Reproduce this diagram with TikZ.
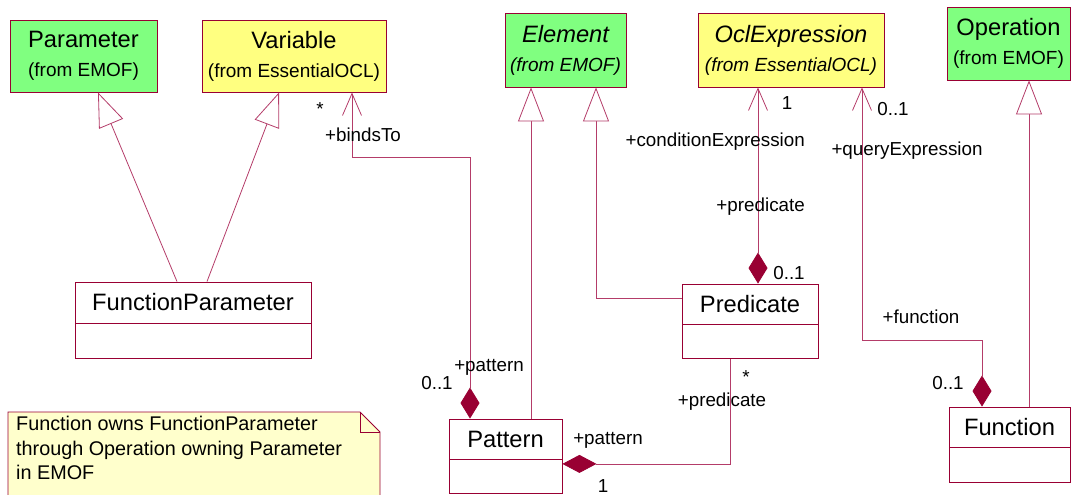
\documentclass[tikz,border=0pt]{standalone}
\usepackage{xcolor}
\usepackage{fontspec}
\setmainfont{Liberation Sans}
\usepackage{tikz}
\usetikzlibrary{positioning,arrows.meta}

\definecolor{umlred}{RGB}{153,0,51}
\definecolor{umllink}{RGB}{180,60,105}
\definecolor{emofgreen}{RGB}{128,255,128}
\definecolor{oclyellow}{RGB}{255,255,128}
\definecolor{notefill}{RGB}{255,255,204}

\newcommand{\titlefont}{\fontsize{23.7}{29}\selectfont}
\newcommand{\fromfont}{\fontsize{19}{29}\selectfont}
\newcommand{\lblfont}{\fontsize{18.8}{22}\selectfont}

\tikzset{
  umlbox/.style={draw=umlred, line width=0.9pt, align=center, inner sep=0pt, font=\titlefont},
  efbox/.style={umlbox, fill=emofgreen},
  oclbox/.style={umlbox, fill=oclyellow},
  namebox/.style={umlbox, fill=white},
  bodybox/.style={umlbox, fill=white},
  gen/.style={draw=umllink, line width=0.8pt, -{Triangle[open, length=34pt, width=26pt, fill=white]}},
  compnav/.style={draw=umllink, line width=0.8pt, {Diamond[length=31pt, width=19pt, umlred]}-{Straight Barb[length=22pt, width=19pt]}},
  comp/.style={draw=umllink, line width=0.8pt, {Diamond[length=34pt, width=18pt, umlred]}-},
  lbl/.style={font=\lblfont, inner sep=0pt}
}

\begin{document}
\begin{tikzpicture}[x=1pt, y=-1pt]
\useasboundingbox (0,0) rectangle (1071,495);

% imported classes
\node[efbox, minimum width=147pt, minimum height=72pt] (param) at (83.5,56) {Parameter\\ \fromfont(from EMOF)};
\node[oclbox, minimum width=184pt, minimum height=72pt] (var) at (294,56) {Variable\\ \fromfont(from EssentialOCL)};
\node[efbox, minimum width=121pt, minimum height=74pt, font=\titlefont\itshape] (elem) at (565.5,50) {Element\\ \fromfont(from EMOF)};
\node[oclbox, minimum width=186pt, minimum height=74pt, font=\titlefont\itshape] (ocl) at (791,50) {OclExpression\\ \fromfont(from EssentialOCL)};
\node[efbox, minimum width=123pt, minimum height=73pt] (oper) at (1008.5,43.5) {Operation\\ \fromfont(from EMOF)};

% own classes
\node[namebox, minimum width=236pt, minimum height=41pt] (fpar) at (193,302.5) {FunctionParameter};
\node[bodybox, minimum width=236pt, minimum height=35pt, below=0pt of fpar] (fparb) {};
\node[namebox, minimum width=136pt, minimum height=40pt] (pred) at (750,304) {Predicate};
\node[bodybox, minimum width=136pt, minimum height=34pt, below=0pt of pred] (predb) {};
\node[namebox, minimum width=113pt, minimum height=40pt] (pat) at (505.5,439) {Pattern};
\node[bodybox, minimum width=113pt, minimum height=34pt, below=0pt of pat] (patb) {};
\node[namebox, minimum width=121pt, minimum height=40pt] (fun) at (1009.5,427) {Function};
\node[bodybox, minimum width=121pt, minimum height=35pt, below=0pt of fun] (funb) {};

% generalizations
\draw[gen] ([xshift=-16pt]fpar.north) -- ([xshift=14.5pt]param.south);
\draw[gen] ([xshift=14pt]fpar.north) -- ([xshift=-15pt]var.south);
\draw[gen] ([xshift=25.5pt]pat.north) -- ([xshift=-34.5pt]elem.south);
\draw[gen] ([yshift=6pt]pred.west) -| ([xshift=30.5pt]elem.south);
\draw[gen] ([xshift=19.5pt]fun.north) -- ([xshift=20.5pt]oper.south);

% associations
\draw[compnav] ([xshift=-35.5pt]pat.north) -- ++(0,-261) -| ([xshift=58pt]var.south);
\draw[compnav] ([xshift=8pt]pred.north) -- ([xshift=-33pt]ocl.south);
\draw[compnav] ([xshift=-27.5pt]fun.north) -- ++(0,-66) -| ([xshift=71pt]ocl.south);
\draw[comp] ([yshift=13pt]patb.east) -| ([xshift=-20pt]predb.south);

% association ends
\node[lbl] (bindsMult) at (320,109) {*};
\node[lbl] (bindsRole) at (363,135) {+bindsTo};
\node[lbl] (patMult) at (437,383) {0..1};
\node[lbl] (patRole) at (489,367) {+pattern};
\node[lbl] (condMult) at (787,103) {1};
\node[lbl, anchor=east] (condRole) at (805,142) {+conditionExpression};
\node[lbl, anchor=east] (predRole) at (805,207) {+predicate};
\node[lbl] (predMult) at (789,273) {0..1};
\node[lbl] (queryMult) at (893,109) {0..1};
\node[lbl] (queryRole) at (907,151) {+queryExpression};
\node[lbl] (funRole) at (921,317) {+function};
\node[lbl] (funMult) at (948,383) {0..1};
\node[lbl] (predsMult) at (746,377) {*};
\node[lbl] (predsRole) at (722,402) {+predicate};
\node[lbl] (ownerRole) at (608,440) {+pattern};
\node[lbl] (ownerMult) at (603,486) {1};

% note
\filldraw[draw=umlred, fill=notefill, line width=0.9pt] (8,412) -- (360,412) -- (380,432) -- (380,500) -- (8,500) -- cycle;
\draw[umlred, line width=0.9pt] (360,412) -- (360,432) -- (380,432);
\node[anchor=north west, align=left, inner sep=0pt, font=\fontsize{19.8}{24.5}\selectfont] (note) at (16,416)
  {Function owns FunctionParameter\\through Operation owning Parameter\\in EMOF};
\end{tikzpicture}
\end{document}
